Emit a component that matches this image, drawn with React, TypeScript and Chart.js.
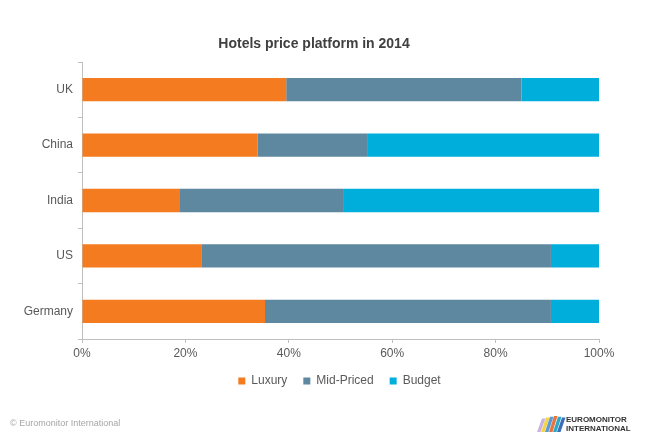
import React, { useEffect, useRef } from "react";
import { Chart, registerables } from "chart.js";

Chart.register(...registerables);

const categories = ["UK", "China", "India", "US", "Germany"];
const luxury = [39.5, 34, 18.8, 23.2, 35.4];
const midPriced = [45.5, 21.3, 31.7, 67.5, 55.3];
const budget = [15, 44.7, 49.5, 9.3, 9.3];
const xTicks = [0, 20, 40, 60, 80, 100];
const titleText = "Hotels price platform in 2014";

const FONT = "'Liberation Sans', Arial, sans-serif";

const decorPlugin = {
  id: "decor",
  afterLayout(chart: any) {
    const lg = chart.legend;
    if (lg) {
      const h = lg.bottom - lg.top;
      lg.left = chart.chartArea.left - 2;
      lg.right = chart.chartArea.right;
      lg.top = 359;
      lg.bottom = 359 + h;
    }
  },
  afterDraw(chart: any) {
    const ctx = chart.ctx as CanvasRenderingContext2D;
    ctx.save();
    // title
    ctx.fillStyle = "#404040";
    ctx.font = `bold 14px ${FONT}`;
    ctx.textAlign = "center";
    ctx.textBaseline = "middle";
    ctx.fillText(titleText, 314, 44);
    // footer
    ctx.fillStyle = "#A6A6A6";
    ctx.font = `9px ${FONT}`;
    ctx.textAlign = "left";
    ctx.fillText("© Euromonitor International", 10, 424);
    // logo stripes
    const colors = ["#C9B3E0", "#F5D547", "#5B9BD5", "#E8743B", "#2EA7C9", "#3B6FB6"];
    const baseX = 537;
    for (let i = 0; i < colors.length; i++) {
      ctx.fillStyle = colors[i];
      const x = baseX + i * 4;
      const topY = 416 + Math.abs(3 - i) * 0.8;
      ctx.beginPath();
      ctx.moveTo(x, 432);
      ctx.lineTo(x + 5, topY);
      ctx.lineTo(x + 8.5, topY);
      ctx.lineTo(x + 3.5, 432);
      ctx.closePath();
      ctx.fill();
    }
    ctx.fillStyle = "#333333";
    ctx.font = `bold 8px ${FONT}`;
    ctx.fillText("EUROMONITOR", 566, 420);
    ctx.fillText("INTERNATIONAL", 566, 429);
    ctx.restore();
  },
};

export default function App() {
  const ref = useRef<HTMLCanvasElement | null>(null);
  useEffect(() => {
    if (!ref.current) return;
    const chart = new Chart(ref.current, {
      type: "bar",
      data: {
        labels: categories,
        datasets: [
          { label: "Luxury", data: luxury, backgroundColor: "#F47B20" },
          { label: "Mid-Priced", data: midPriced, backgroundColor: "#5E87A0" },
          { label: "Budget", data: budget, backgroundColor: "#00AEDB" },
        ],
      },
      options: {
        indexAxis: "y",
        responsive: false,
        animation: false,
        layout: { padding: { left: 0, right: 61, top: 62, bottom: 37 } },
        datasets: { bar: { categoryPercentage: 1, barPercentage: 0.42, borderWidth: 0 } },
        scales: {
          x: {
            stacked: true,
            min: 0,
            max: 100,
            afterBuildTicks(scale: any) {
              scale.ticks = xTicks.map((v) => ({ value: v }));
            },
            afterFit(scale: any) {
              scale.height = 26;
            },
            ticks: {
              callback: (v: any) => `${v}%`,
              color: "#595959",
              font: { family: FONT, size: 12 },
              padding: 3,
              maxRotation: 0,
            },
            grid: { drawOnChartArea: false, drawTicks: true, tickLength: 4, color: "#BFBFBF" },
            border: { color: "#BFBFBF" },
          },
          y: {
            stacked: true,
            afterFit(scale: any) {
              scale.width = 82;
            },
            ticks: {
              color: "#595959",
              font: { family: FONT, size: 12 },
              padding: 5,
            },
            grid: { drawOnChartArea: false, drawTicks: true, tickLength: 4, color: "#BFBFBF" },
            border: { color: "#BFBFBF" },
          },
        },
        plugins: {
          title: { display: false },
          legend: {
            position: "bottom",
            labels: {
              boxWidth: 7,
              boxHeight: 7,
              padding: 16,
              color: "#595959",
              font: { family: FONT, size: 12 },
            },
          },
          tooltip: { enabled: false },
        },
      },
      plugins: [decorPlugin],
    });
    return () => chart.destroy();
  }, []);
  return (
    <div style={{ position: "fixed", left: 0, top: 0, width: 660, height: 440, background: "#fff" }}>
      <canvas ref={ref} width={660} height={440} />
    </div>
  );
}
